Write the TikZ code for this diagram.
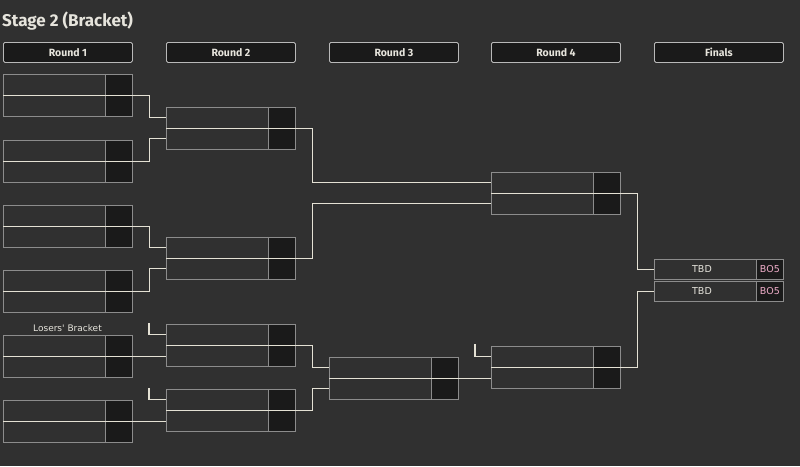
\documentclass[tikz,border=0pt]{standalone}
\usepackage{fontspec}
\setmainfont{Fira Sans}
\newfontfamily\slotfont{DejaVu Sans}
\usetikzlibrary{positioning}
\definecolor{bg}{RGB}{48,48,48}
\definecolor{cellfill}{RGB}{26,26,26}
\definecolor{boxline}{RGB}{140,140,140}
\definecolor{headline}{RGB}{185,185,185}
\definecolor{wire}{RGB}{228,225,212}
\definecolor{ink}{RGB}{230,228,220}
\definecolor{bopink}{RGB}{238,172,200}

% one match: two slots, score cells and the middle line
\newcommand{\bmatch}[3]{%
  \node[slot] (#1-t) at (#2,#3) {};
  \node[slot] (#1-b) at (#2,#3+21) {};
  \node[scorecell, anchor=north east] (#1-ts) at (#1-t.north east) {};
  \node[scorecell, anchor=north east] (#1-bs) at (#1-b.north east) {};
  \draw[wireline] (#1-t.south west) -- (#1-t.south east);
}

\begin{document}
\begin{tikzpicture}[x=1pt,y=-1pt,
  slot/.style={draw=boxline, line width=0.8pt, fill=bg, minimum width=129pt, minimum height=21pt, inner sep=0pt, anchor=north west},
  scorecell/.style={draw=boxline, line width=0.8pt, fill=cellfill, minimum width=27pt, minimum height=21pt, inner sep=0pt},
  header/.style={draw=headline, line width=0.8pt, fill=cellfill, rounded corners=1.5pt, minimum width=129pt, minimum height=20pt, inner sep=0pt, anchor=north west, text=ink, font=\fontsize{10.5}{12}\selectfont\bfseries},
  wireline/.style={draw=wire, line width=1.1pt},
  txt/.style={text=ink, inner sep=0pt, font=\slotfont\fontsize{9.5}{11}\selectfont}]

  % background
  \fill[bg] (0,0) rectangle (800,466);
  \useasboundingbox (0,0) rectangle (800,466);

  % title
  \node[anchor=west, text=ink, inner sep=0pt, font=\fontsize{17}{20}\selectfont\bfseries] (title) at (2,21) {Stage 2 (Bracket)};

  % round headers
  \node[header] (h1) at (3,42) {Round 1};
  \node[header] (h2) at (166,42) {Round 2};
  \node[header] (h3) at (329,42) {Round 3};
  \node[header] (h4) at (491,42) {Round 4};
  \node[header] (h5) at (654,42) {Finals};

  % round 1
  \bmatch{r1a}{3}{74}
  \bmatch{r1b}{3}{140}
  \bmatch{r1c}{3}{205}
  \bmatch{r1d}{3}{270}
  \bmatch{r1e}{3}{335}
  \bmatch{r1f}{3}{400}
  \node[txt, font=\slotfont\fontsize{9}{11}\selectfont] (losers) at (67.5,328.5) {Losers' Bracket};

  % round 2
  \bmatch{r2a}{166}{107}
  \bmatch{r2b}{166}{237}
  \bmatch{r2c}{166}{324}
  \bmatch{r2d}{166}{389}

  % round 3 and round 4
  \bmatch{r3a}{329}{357}
  \bmatch{r4a}{491}{172}
  \bmatch{r4b}{491}{346}

  % finals
  \node[slot, minimum height=20pt] (fin-t) at (654,259) {};
  \node[slot, minimum height=20pt] (fin-b) at (654,281) {};
  \node[scorecell, minimum height=20pt, anchor=north east] (fin-ts) at (fin-t.north east) {};
  \node[scorecell, minimum height=20pt, anchor=north east] (fin-bs) at (fin-b.north east) {};
  \node[txt] (tbd1) at (702,269) {TBD};
  \node[txt] (tbd2) at (702,291) {TBD};
  \node[txt, text=bopink] (bo1) at (fin-ts) {BO5};
  \node[txt, text=bopink] (bo2) at (fin-bs) {BO5};

  % round 1 to round 2
  \draw[wireline] (r1a-t.south east) -- ++(17,0) |- (r2a-t.west);
  \draw[wireline] (r1b-t.south east) -- ++(17,0) |- (r2a-b.west);
  \draw[wireline] (r1c-t.south east) -- ++(17,0) |- (r2b-t.west);
  \draw[wireline] (r1d-t.south east) -- ++(17,0) |- (r2b-b.west);
  \draw[wireline] (r1e-t.south east) -- (r2c-b.west |- r1e-t.south east);
  \draw[wireline] (r1f-t.south east) -- (r2d-b.west |- r1f-t.south east);
  \coordinate (s2c) at (149,323);
  \coordinate (s2d) at (149,388);
  \draw[wireline] (s2c) |- (r2c-t.west);
  \draw[wireline] (s2d) |- (r2d-t.west);

  % round 2 onwards
  \draw[wireline] (r2a-t.south east) -- ++(17,0) |- (r4a-t.west);
  \draw[wireline] (r2b-t.south east) -- ++(17,0) |- (r4a-b.west);
  \draw[wireline] (r2c-t.south east) -- ++(17,0) |- (r3a-t.west);
  \draw[wireline] (r2d-t.south east) -- ++(17,0) |- (r3a-b.west);
  \draw[wireline] (r3a-t.south east) -- (r4b-b.west |- r3a-t.south east);
  \coordinate (s4b) at (475,344);
  \draw[wireline] (s4b) |- (r4b-t.west);

  % round 4 to finals
  \draw[wireline] (r4a-t.south east) -- ++(17,0) |- (fin-t.west);
  \draw[wireline] (r4b-t.south east) -- ++(17,0) |- (fin-b.west);
\end{tikzpicture}
\end{document}
